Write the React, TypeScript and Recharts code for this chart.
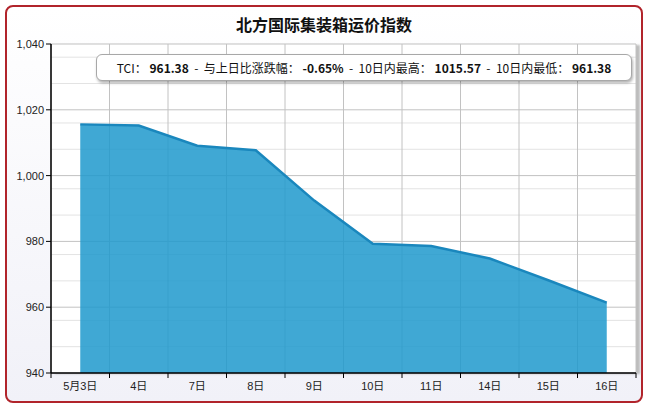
import React from "react";
import { AreaChart, Area, XAxis, YAxis, CartesianGrid } from "recharts";

const categories = ["5月3日", "4日", "7日", "8日", "9日", "10日", "11日", "14日", "15日", "16日"];
const tciValues = [1015.57, 1015.2, 1009.1, 1007.7, 992.4, 979.3, 978.6, 974.8, 968.2, 961.38];
const yTicks = [940, 960, 980, 1000, 1020, 1040];
const yMinorTicks = [944, 948, 952, 956, 964, 968, 972, 976, 984, 988, 992, 996, 1004, 1008, 1012, 1016, 1024, 1028, 1032, 1036];
const xBoundaries = [0, 1, 2, 3, 4, 5, 6, 7, 8, 9, 10];

const title = "北方国际集装箱运价指数";
const infoParts: [string, string][] = [
  ["TCI：", "961.38"],
  ["与上日比涨跌幅：", "-0.65%"],
  ["10日内最高：", "1015.57"],
  ["10日内最低：", "961.38"],
];

const data = categories.map((label, i) => ({ label, pos: i + 0.5, value: tciValues[i] }));

const W = 648;
const H = 410;
const axisFont = "'Liberation Sans Narrow', 'Liberation Sans', 'Noto Sans CJK SC', sans-serif";
const cjkFont = "'Noto Sans CJK SC', 'Liberation Sans', sans-serif";

// boundary ticks only carry a tick mark, the labels come from the band axis
const NoLabel = () => <g />;

export default function App() {
  return (
    <div
      style={{
        position: "absolute",
        left: 0,
        top: 0,
        width: W,
        height: H,
        background: "#fff",
        overflow: "hidden",
      }}
    >
      {/* outer frame */}
      <div
        style={{
          position: "absolute",
          left: 5,
          top: 5,
          width: 634,
          height: 394,
          border: "2px solid #b1242b",
          borderRadius: 8,
          background: "linear-gradient(#ffffff, #f1f1f8)",
        }}
      />
      {/* plot background + shadow */}
      <div
        style={{
          position: "absolute",
          left: 51,
          top: 44,
          width: 585,
          height: 329,
          background: "#fff",
          boxShadow: "4px 1px 2px #bdbdbd",
        }}
      />
      <div
        style={{
          position: "absolute",
          left: 0,
          top: 12,
          width: W,
          textAlign: "center",
          fontFamily: cjkFont,
          fontWeight: "bold",
          fontSize: 16,
          color: "#111",
        }}
      >
        {title}
      </div>
      <div style={{ position: "absolute", left: 0, top: 0 }}>
        <AreaChart width={W} height={H} data={data} margin={{ top: 44, right: 12, left: 0, bottom: 0 }}>
          <CartesianGrid horizontalValues={yMinorTicks} vertical={false} stroke="#e3e3e3" />
          <CartesianGrid stroke="#c2c2c2" />
          <XAxis
            type="number"
            dataKey="pos"
            domain={[0, 10]}
            ticks={xBoundaries}
            interval={0}
            tick={<NoLabel />}
            height={1}
            tickSize={5}
            axisLine={{ stroke: "#000", strokeWidth: 1.5 }}
            tickLine={{ stroke: "#000" }}
          />
          <XAxis
            xAxisId="lbl"
            dataKey="label"
            type="category"
            scale="band"
            height={36}
            axisLine={false}
            tickLine={false}
            tick={{ fontSize: 11, fill: "#222", fontFamily: axisFont }}
          />
          <YAxis
            width={51}
            domain={[940, 1040]}
            ticks={yTicks}
            tickFormatter={(v: number) => v.toLocaleString("en-US")}
            axisLine={{ stroke: "#000", strokeWidth: 1.5 }}
            tickLine={{ stroke: "#000" }}
            tickSize={5}
            tick={{ fontSize: 11, fill: "#222", fontFamily: axisFont }}
          />
          <Area
            type="linear"
            dataKey="value"
            stroke="#1a87bd"
            strokeWidth={2.5}
            fill="#1f99cd"
            fillOpacity={0.85}
            dot={false}
            activeDot={false}
            isAnimationActive={false}
          />
        </AreaChart>
      </div>
      {/* info box */}
      <div
        style={{
          position: "absolute",
          left: 96,
          top: 54,
          width: 534,
          height: 25,
          background: "#fff",
          border: "1px solid #a8a8a8",
          borderRadius: 6,
          boxShadow: "1px 2px 3px rgba(0,0,0,0.3)",
          fontFamily: cjkFont,
          fontSize: 12,
          color: "#111",
          display: "flex",
          alignItems: "center",
          justifyContent: "center",
          whiteSpace: "pre",
        }}
      >
        {infoParts.map(([k, v], i) => (
          <span key={k}>
            {i > 0 ? "  -  " : ""}
            {k}
            <b> {v}</b>
          </span>
        ))}
      </div>
    </div>
  );
}
